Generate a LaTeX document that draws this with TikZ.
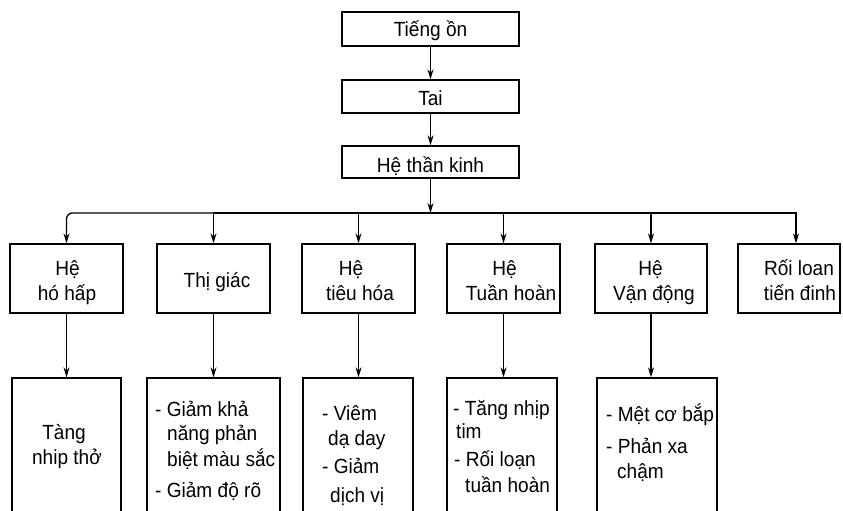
\documentclass[tikz,border=0pt]{standalone}
\usepackage{fontspec}
\setmainfont[FakeStretch=0.93]{Liberation Sans}
\usetikzlibrary{arrows.meta}
\begin{document}
\begin{tikzpicture}[x=1pt,y=-1pt,
  box/.style={draw=black, line width=1.3pt, inner sep=0pt},
  txt/.style={inner sep=0pt, font=\fontsize{20.5}{25}\selectfont, text=black},
  arr/.style={line width=1.3pt, draw=black, -{Stealth[length=10pt,width=6pt]}}]
\useasboundingbox (0,0) rectangle (843,511);
\clip (0,0) rectangle (843,511);
\fill[white] (0,0) rectangle (843,511);
% ---------- top chain
\node[box, minimum width=177pt, minimum height=34pt] (noise) at (430.5,29) {};
\node[box, minimum width=177pt, minimum height=33pt] (tai) at (430.5,96.5) {};
\node[box, minimum width=177pt, minimum height=32pt] (htk) at (430.5,162) {};
\node[txt, anchor=base] (tnoise) at (430.5,37) {Tiếng ồn};
\node[txt, anchor=base] (ttai) at (430.5,105) {Tai};
\node[txt, anchor=base] (thtk) at (430.5,172) {Hệ thần kinh};
\draw[arr] (noise) -- (tai);
\draw[arr] (tai) -- (htk);
\coordinate (bus) at (430.5,213);
\draw[arr] (htk) -- (bus);
% ---------- level 2 boxes
\node[box, minimum width=113pt, minimum height=69pt] (b1) at (66.5,278.5) {};
\node[box, minimum width=113pt, minimum height=69pt] (b2) at (213.5,278.5) {};
\node[box, minimum width=113pt, minimum height=69pt] (b3) at (358.5,278.5) {};
\node[box, minimum width=113pt, minimum height=69pt] (b4) at (503.5,278.5) {};
\node[box, minimum width=112pt, minimum height=69pt] (b5) at (651,278.5) {};
\node[box, minimum width=102pt, minimum height=69pt] (b6) at (789,278.5) {};
\draw[arr, rounded corners=6pt] (bus) -| (b1.north);
\draw[arr] (bus) -| (b2.north);
\draw[arr] (bus) -| (b3.north);
\draw[arr] (bus) -| (b4.north);
\draw[arr] (bus) -| (b5.north);
\draw[arr] (bus) -| ([xshift=7pt]b6.north);
% level 2 texts
\node[txt, anchor=base] (b1a) at (67.5,275) {Hệ};
\node[txt, anchor=base] (b1b) at (67,300) {hó hấp};
\node[txt, anchor=base] (b2a) at (217,287) {Thị giác};
\node[txt, anchor=base] (b3a) at (351,275) {Hệ};
\node[txt, anchor=base] (b3b) at (360,300) {tiêu hóa};
\node[txt, anchor=base] (b4a) at (504.5,275) {Hệ};
\node[txt, anchor=base] (b4b) at (511,300) {Tuần hoàn};
\node[txt, anchor=base] (b5a) at (650.5,275) {Hệ};
\node[txt, anchor=base] (b5b) at (654,300) {Vận động};
\node[txt, anchor=base] (b6a) at (799,275) {Rối loan};
\node[txt, anchor=base] (b6b) at (800,300) {tiến đinh};
% ---------- level 3 boxes
\node[box, minimum width=109pt, minimum height=170pt] (c1) at (66.5,463) {};
\node[box, minimum width=133pt, minimum height=170pt] (c2) at (213.5,463) {};
\node[box, minimum width=110pt, minimum height=170pt] (c3) at (358,463) {};
\node[box, minimum width=110pt, minimum height=170pt] (c4) at (502,463) {};
\node[box, minimum width=120pt, minimum height=170pt] (c5) at (657,463) {};
\draw[arr] (b1.south) -- (b1.south |- c1.north);
\draw[arr] (b2.south) -- (b2.south |- c2.north);
\draw[arr] (b3.south) -- (b3.south |- c3.north);
\draw[arr] (b4.south) -- (b4.south |- c4.north);
\draw[arr] (b5.south) -- (b5.south |- c5.north);
% level 3 texts
\node[txt, anchor=base] (c1a) at (64,439) {Tàng};
\node[txt, anchor=base] (c1b) at (67,464) {nhip thở};
\node[txt, anchor=base west] (c2a) at (155,416) {- Giảm khả};
\node[txt, anchor=base west] (c2b) at (167,440) {năng phản};
\node[txt, anchor=base west] (c2c) at (167,466) {biệt màu sắc};
\node[txt, anchor=base west] (c2d) at (155,497) {- Giảm độ rõ};
\node[txt, anchor=base west] (c3a) at (322,420) {- Viêm};
\node[txt, anchor=base west] (c3b) at (328,445) {dạ day};
\node[txt, anchor=base west] (c3c) at (322,473) {- Giảm};
\node[txt, anchor=base west] (c3d) at (330,502) {dịch vị};
\node[txt, anchor=base west] (c4a) at (453,415) {- Tăng nhịp};
\node[txt, anchor=base west] (c4b) at (456,438) {tim};
\node[txt, anchor=base west] (c4c) at (454,466) {- Rối loạn};
\node[txt, anchor=base west] (c4d) at (465,492) {tuần hoàn};
\node[txt, anchor=base west] (c5a) at (606,421) {- Mệt cơ bắp};
\node[txt, anchor=base west] (c5b) at (606,453) {- Phản xa};
\node[txt, anchor=base west] (c5c) at (617,478) {chậm};
\end{tikzpicture}
\end{document}
